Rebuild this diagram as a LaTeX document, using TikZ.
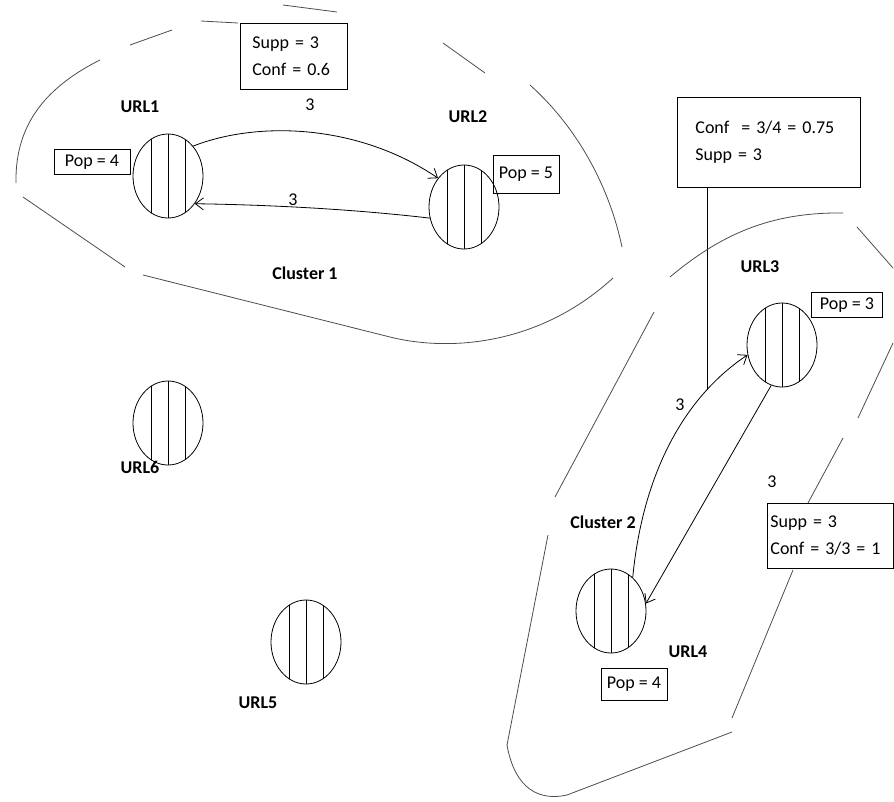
\documentclass[tikz,border=0pt]{standalone}
\usepackage{fontspec}
\setmainfont{Carlito}
\usetikzlibrary{shapes.geometric, arrows.meta}
\tikzset{ url/.style = { ellipse
                       , draw
                       , line width   = 0.8pt
                       , inner sep    = 0pt
                       , minimum width  = 70pt
                       , minimum height = 84pt
                       , path picture = {
                           \foreach \d in {-17,0,17}
                             \draw[line width=0.8pt]
                               ([xshift=\d pt]path picture bounding box.south)
                               -- ([xshift=\d pt]path picture bounding box.north);
                         }
                       },
          pop/.style = { draw
                       , line width   = 0.8pt
                       , inner sep    = 0pt
                       },
         info/.style = { draw
                       , line width   = 0.8pt
                       , anchor       = north west
                       , align        = left
                       },
          lbl/.style = { font = \fontsize{18}{27}\selectfont\bfseries },
         hull/.style = { draw = black!70, line width = 0.8pt },
         link/.style = { -{Straight Barb[length=8pt, width=12pt]}, line width = 0.8pt }
        }
\begin{document}
\begin{tikzpicture}[x=1pt, y=-1pt, font=\fontsize{18}{27}\selectfont]
    \useasboundingbox (0,0) rectangle (894,801);
    % pages
    \foreach \n/\x/\y in {u1/168/176, u2/464/207, u3/782/345,
                          u4/611/611, u5/306/642, u6/168/423} {
      \node[url] (\n) at (\x,\y) {};
    }
    \foreach \n/\x/\y in {URL1/140/107, URL2/468/117, URL3/760/267,
                          URL4/688/652, URL6/140/467, URL5/258/703} {
      \node[lbl] (l\n) at (\x,\y) {\n};
    }
    \foreach \n/\v/\x/\y/\w/\h in {p1/4/92/162/76/25, p2/5/526/174/66/38,
                                   p3/3/847/305/71/25, p4/4/634/684/66/32} {
      \node[pop, minimum width=\w pt, minimum height=\h pt] (\n) at (\x,\y) {Pop = \v};
    }
    \node[lbl] (c1) at (305,273) {Cluster 1};
    \node[lbl] (c2) at (603,522) {Cluster 2};
    % rule boxes
    \node[info, inner xsep=12pt, text width=83pt, minimum height=66pt]
         (r12) at (240,23) {Supp = 3\\Conf = 0.6};
    \node[info, inner xsep=18pt, text width=147pt, minimum height=90pt]
         (r43) at (677,97) {Conf \ = 3/4 = 0.75\\Supp = 3};
    \node[info, inner xsep=3pt, text width=120pt, minimum height=65pt]
         (r34) at (767,503) {Supp = 3\\Conf = 3/3 = 1};
    % links
    \draw[link] (u1.50) .. controls (260,120) and (360,125) .. (u2.132);
    \draw[link] (u2.198) .. controls (360,210) and (280,205) .. (u1.314);
    \draw[link] (u4.57) .. controls (642,480) and (680,400) .. (u3.196);
    \draw[link] (u3.255) -- (u4.12);
    \coordinate (tap) at (707,390);
    \draw[line width=0.8pt] (tap |- r43.south) -- (tap);
    \node (w12) at (310,105) {3};
    \node (w21) at (293,200) {3};
    \node (w43) at (680,405) {3};
    \node (w34) at (772,482) {3};
    % cluster 1
    \draw[hull] (130,45) -- (172,30)  (201,21) -- (238,23)  (283,5) -- (337,12)
                (443,43) -- (485,73)  (23,197) -- (125,267);
    \draw[hull] (100,60) .. controls (40,90) and (15,130) .. (16,183);
    \draw[hull] (143,275) -- (390,337) .. controls (450,352) and (540,345) .. (613,278);
    \draw[hull] (530,85) .. controls (580,130) and (610,190) .. (622,247);
    % cluster 2
    \draw[hull] (670,277) .. controls (720,235) and (770,212) .. (843,213);
    \draw[hull] (857,227) -- (893,268)  (893,343) -- (858,418)  (843,438) -- (808,503)
                (793,570) -- (732,718)  (555,497) -- (654,312);
    \draw[hull] (732,732) -- (567,795) .. controls (540,801) and (515,790) .. (507,745)
                -- (548,535);
  \end{tikzpicture}
\end{document}
